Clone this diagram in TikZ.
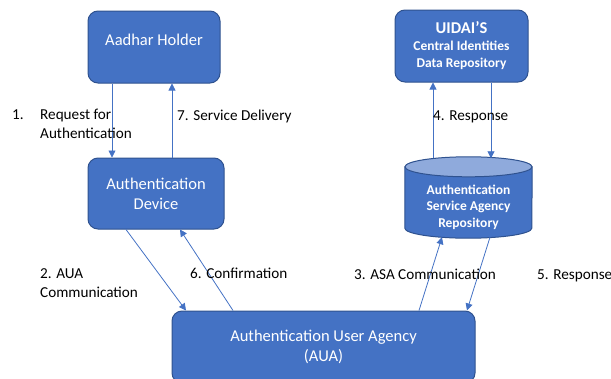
\documentclass[tikz,border=0pt]{standalone}
\usepackage{fontspec}
\setmainfont{Carlito}
\usetikzlibrary{arrows.meta}
\definecolor{boxblue}{HTML}{4472C4}
\definecolor{boxline}{HTML}{2F528F}
\definecolor{toplight}{HTML}{8FAADC}

\begin{document}
\begin{tikzpicture}[
    x=1pt, y=-1pt,
    box/.style={draw=boxline, line width=1pt, fill=boxblue, rounded corners=10pt,
        text=white, align=center, inner sep=0pt, font=\fontsize{16.5}{20}\selectfont},
    repo/.style={inner sep=0pt, minimum width=127, minimum height=81},
    repobody/.style={draw=boxline, line width=1pt, fill=boxblue},
    repotop/.style={draw=boxline, line width=1pt, fill=toplight},
    repotext/.style={text=white, align=center, inner sep=0pt, font=\bfseries\fontsize{13.5}{16.5}\selectfont},
    lbl/.style={anchor=west, inner sep=0pt, align=left, font=\fontsize{15.2}{18.5}\selectfont},
    flow/.style={draw=boxblue, line width=0.8pt, -{Triangle[width=7pt,length=7pt]}}
  ]
  \clip (0,0) rectangle (611,378);

  \node[box, minimum width=132, minimum height=72, text depth=15pt] (holder) at (154,47) {Aadhar Holder};
  \node[box, minimum width=136, minimum height=71] (device) at (156,193.5) {Authentication\\Device};
  \node[box, minimum width=133, minimum height=72, font=\bfseries\fontsize{13.5}{17}\selectfont] (uidai) at (461.5,46)
      {{\fontsize{16.5}{20}\selectfont UIDAI’S}\\Central Identities\\Data Repository};
  \node[repo] (asa) at (468.5,197.5) {};
  \draw[repobody] ([yshift=-10pt]asa.north west) -- ([yshift=10pt]asa.south west)
      arc[start angle=180, end angle=360, x radius=63.5pt, y radius=10pt]
      -- ([yshift=-10pt]asa.north east) -- cycle;
  \draw[repotop] ([yshift=-10pt]asa.north) ellipse[x radius=63.5pt, y radius=10pt];
  \node[repotext] (asatext) at ([yshift=-9.5pt]asa.center) {Authentication\\Service Agency\\Repository};
  \node[box, minimum width=303, minimum height=72] (aua) at (323.5,347) {Authentication User Agency\\(AUA)};

  \draw[flow] ([xshift=-42]holder.south) -- ([xshift=-42]holder.south |- device.north);
  \draw[flow] ([xshift=16]device.north) -- ([xshift=16]device.north |- holder.south);
  \draw[flow] ([xshift=-35.5,yshift=-1.5]asa.north) -- ([xshift=-35.5]asa.north |- uidai.south);
  \draw[flow] ([xshift=29.5]uidai.south) -- ([xshift=29.5,yshift=-1.5]uidai.south |- asa.north);
  \draw[flow] ([xshift=-30]device.south) -- ([xshift=-137.5]aua.north);
  \draw[flow] ([xshift=-90.5]aua.north) -- ([xshift=24]device.south);
  \draw[flow] ([xshift=95.5]aua.north) -- ([xshift=-26.5,yshift=1]asa.south);
  \draw[flow] ([xshift=21.5,yshift=1]asa.south) -- ([xshift=143.5]aua.north);

  \node[lbl] (num1) at (12,115) {1.};
  \node[lbl] (request) at (40,124) {Request for\\Authentication};
  \node[lbl] (delivery) at (177,116) {7. Service Delivery};
  \node[lbl] (response4) at (433,116.5) {4. Response};
  \node[lbl] (auacomm) at (40,283.3) {2. AUA\\Communication};
  \node[lbl] (confirm) at (190,273.6) {6. Confirmation};
  \node[lbl] (asacomm) at (354,274) {3. ASA Communication};
  \node[lbl] (response5) at (537,275.6) {5. Response};
\end{tikzpicture}
\end{document}
